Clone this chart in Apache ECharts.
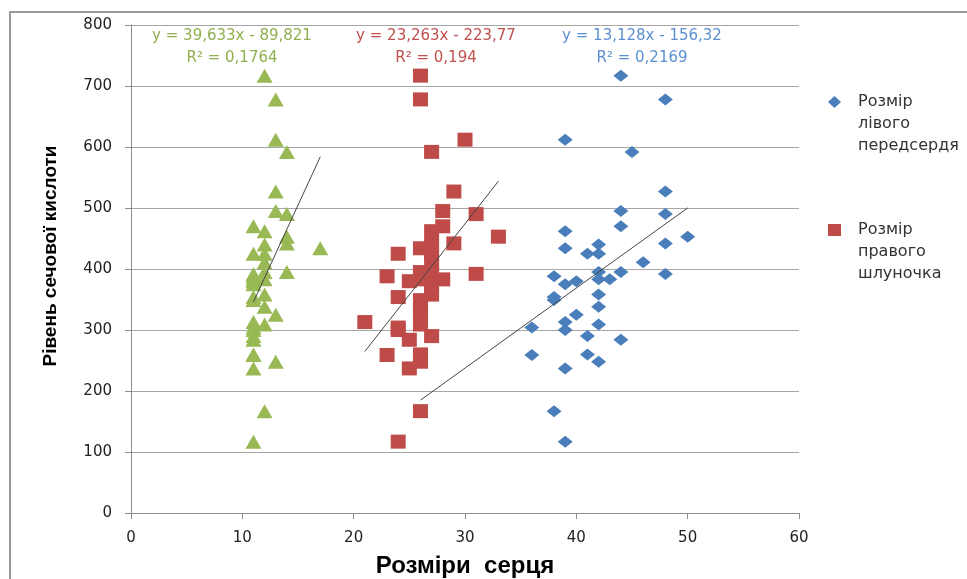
<!DOCTYPE html>
<html lang="uk">
<head>
<meta charset="UTF-8">
<title>Рівень сечової кислоти</title>
<script src="https://cdn.jsdelivr.net/npm/echarts@6/dist/echarts.min.js"></script>
<style>
  html, body { margin: 0; padding: 0; background: #fff; }
  #chart { width: 967px; height: 579px; }
</style>
</head>
<body>
<div id="chart"></div>
<script>
// рівень сечової кислоти (спільний для всіх трьох розмірів)
var acid = [717, 678, 612, 592, 527, 495, 490, 470, 462, 453, 442, 440, 434, 425, 425, 411, 395, 395, 392, 388, 383,
            383, 380, 375, 358, 354, 349, 338, 325, 313, 309, 304, 300, 290, 284, 260, 259, 248, 237, 167, 117];
// розмір лівого передсердя
var leftAtrium = [44, 48, 39, 45, 48, 44, 48, 44, 39, 50, 48, 42, 39, 41, 42, 46, 42, 44, 48, 38, 42,
                  43, 40, 39, 42, 38, 38, 42, 40, 39, 42, 36, 39, 41, 44, 41, 36, 42, 39, 38, 39];
// розмір правого шлуночка
var rightVentricle = [26, 26, 30, 27, 29, 28, 31, 28, 27, 33, 29, 27, 26, 24, 27, 27, 26, 27, 31, 23, 28,
                      26, 25, 27, 27, 24, 26, 26, 26, 21, 26, 24, 24, 27, 25, 26, 23, 26, 25, 26, 24];
// третій ряд (без легенди)
var thirdSize = [12, 13, 13, 14, 13, 13, 14, 11, 12, 14, 14, 12, 17, 11, 12, 12, 14, 12, 11, 11, 12,
                 11, 11, 11, 12, 11, 11, 12, 13, 11, 12, 11, 11, 11, 11, 11, 11, 13, 11, 12, 11];

// лінії тренду (зелений, червоний, синій): y = a*x + b, від / до
var trendA = [39.633, 23.263, 13.128];
var trendB = [-89.821, -223.77, -156.32];
var trendFrom = [11, 21, 26];
var trendTo = [17, 33, 50];
var trendText = ['y = 39,633x - 89,821', 'y = 23,263x - 223,77', 'y = 13,128x - 156,32'];
var r2Text = ['R² = 0,1764', 'R² = 0,194', 'R² = 0,2169'];

var names = ['Розмір лівого передсердя', 'Розмір правого шлуночка', 'Розмір 3'];
var colors = ['#4a7ebb', '#be4b48', '#98b954'];
var labelColors = ['#8fb04f', '#c0504d', '#5b8fd2'];

function pairs(xs) {
    var out = [];
    for (var i = 0; i < xs.length; i++) out.push([xs[i], acid[i]]);
    return out;
}
function trend(i) {
    return [[trendFrom[i], trendA[i] * trendFrom[i] + trendB[i]],
            [trendTo[i], trendA[i] * trendTo[i] + trendB[i]]];
}

var myChart = echarts.init(document.getElementById('chart'));
var font = 'DejaVu Sans';

var option = {
    animation: false,
    grid: { left: 131, right: 168, top: 25, bottom: 66, containLabel: false, outerBoundsMode: 'none' },
    xAxis: {
        type: 'value', min: 0, max: 60, interval: 10,
        name: 'Розміри  серця', nameLocation: 'middle', nameGap: 41,
        nameTextStyle: { fontFamily: 'Liberation Sans', fontWeight: 'bold', fontSize: 24, color: '#000' },
        axisLine: { lineStyle: { color: '#8c8c8c', width: 1 } },
        axisTick: { show: true, length: 6, lineStyle: { color: '#8c8c8c' } },
        axisLabel: { fontFamily: font, fontSize: 15, color: '#222', margin: 18 },
        splitLine: { show: false }
    },
    yAxis: {
        type: 'value', min: 0, max: 800, interval: 100,
        axisLine: { show: true, lineStyle: { color: '#8c8c8c', width: 1 } },
        axisTick: { show: true, length: 6, lineStyle: { color: '#8c8c8c' } },
        axisLabel: { fontFamily: font, fontSize: 15, color: '#222', margin: 19 },
        splitLine: { lineStyle: { color: '#a6a6a6', width: 1 } }
    },
    legend: {
        orient: 'vertical', left: 823, top: 42, itemGap: 18,
        itemWidth: 13, itemHeight: 12,
        data: [{ name: names[0], icon: 'diamond' }, { name: names[1], icon: 'rect' }],
        formatter: function (n) { return '\n\n' + n.split(' ').join('\n'); },
        textStyle: { fontFamily: font, fontSize: 16, color: '#333', lineHeight: 22, padding: [0, 0, 0, 12] }
    },
    graphic: [
        { type: 'rect', shape: { x: 10, y: 12, width: 1000, height: 1000 }, style: { fill: 'none', stroke: '#9a9a9a', lineWidth: 2 }, silent: true },
        { type: 'text', x: 51, y: 256, rotation: Math.PI / 2, silent: true,
          style: { text: 'Рівень сечової кислоти', fill: '#000', font: 'bold 19px "Liberation Sans"', textAlign: 'center', textVerticalAlign: 'middle' } }
    ],
    series: [
        { name: names[0], type: 'scatter', symbol: 'diamond', symbolSize: [15, 12], data: pairs(leftAtrium), itemStyle: { color: colors[0], opacity: 1 } },
        { name: names[1], type: 'scatter', symbol: 'rect', symbolSize: [15, 14], data: pairs(rightVentricle), itemStyle: { color: colors[1], opacity: 1 } },
        { name: names[2], type: 'scatter', symbol: 'triangle', symbolSize: [16, 14], data: pairs(thirdSize), itemStyle: { color: colors[2], opacity: 1 } }
    ]
};

var labelX = [232, 436, 642];
for (var i = 0; i < 3; i++) {
    option.series.push({
        type: 'line', data: trend(i), symbol: 'none', silent: true,
        lineStyle: { color: '#444', width: 1 }, z: 5
    });
    option.graphic.push({
        type: 'text', x: labelX[i], y: 36,
        style: { text: trendText[i], fill: labelColors[i], font: '15px "DejaVu Sans"', textAlign: 'center', textVerticalAlign: 'middle' }
    });
    option.graphic.push({
        type: 'text', x: labelX[i], y: 58,
        style: { text: r2Text[i], fill: labelColors[i], font: '15px "DejaVu Sans"', textAlign: 'center', textVerticalAlign: 'middle' }
    });
}

myChart.setOption(option);
</script>
</body>
</html>
